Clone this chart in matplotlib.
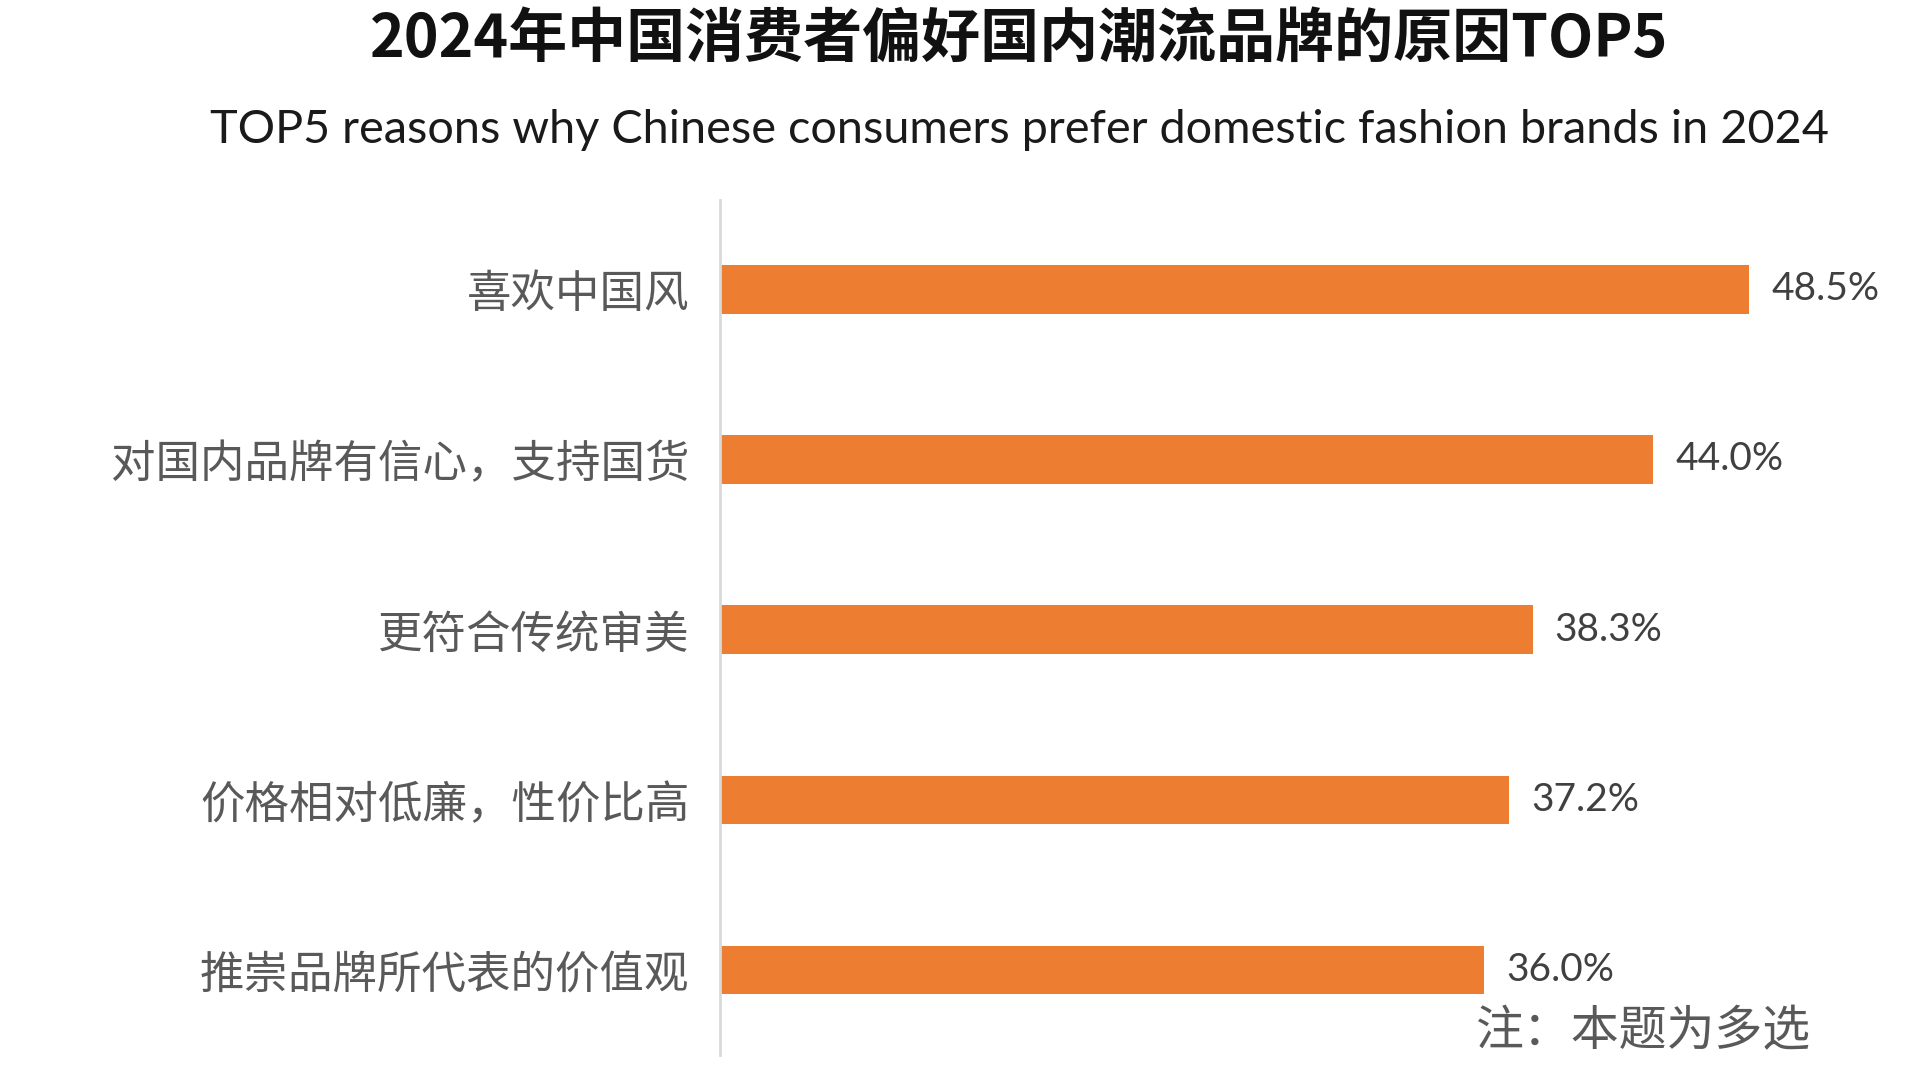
import matplotlib.pyplot as plt
import numpy as np

plt.rcParams['font.family'] = ['Noto Sans CJK SC', 'DejaVu Sans']

categories = ['喜欢中国风', '对国内品牌有信心，支持国货', '更符合传统审美',
              '价格相对低廉，性价比高', '推崇品牌所代表的价值观']
values = [48.5, 44.0, 38.3, 37.2, 36.0]
value_labels = ['48.5%', '44.0%', '38.3%', '37.2%', '36.0%']

title = '2024年中国消费者偏好国内潮流品牌的原因TOP5'
subtitle = 'TOP5 reasons why Chinese consumers prefer domestic fashion brands in 2024'
note = '注：本题为多选'

fig = plt.figure(figsize=(19.2, 10.8), dpi=100)
ax = fig.add_axes([720 / 1920, 25 / 1080, 1 - 720 / 1920 - 0.01, (1055 - 200) / 1080])

y = np.arange(len(categories))
ax.barh(y, values, height=0.285, color='#ED7D31')

for yi, v, lab in zip(y, values, value_labels):
    ax.text(v + 1.05, yi, lab, va='center', ha='left', fontsize=28,
            color='#404040', family=['Lato', 'DejaVu Sans'])

ax.set_xlim(0, 55.66)
ax.set_ylim(4.5, -0.525)
ax.set_yticks(y)
ax.set_yticklabels(categories, fontsize=32, color='#595959')
ax.tick_params(axis='y', length=0, pad=22)
ax.set_xticks([])

for s in ['top', 'right', 'bottom']:
    ax.spines[s].set_visible(False)
ax.spines['left'].set_color('#D9D9D9')
ax.spines['left'].set_linewidth(2)

fig.text(0.531, 0.963, title, ha='center', va='center', fontsize=42.5,
         fontweight='bold', color='#111111')
fig.text(0.531, 0.880, subtitle, ha='center', va='center', fontsize=33.7,
         color='#1a1a1a', family=['Lato', 'DejaVu Sans'])
fig.text(1476 / 1920, 1 - 1031 / 1080, note, ha='left', va='center',
         fontsize=34.5, color='#595959')

fig.savefig('out.png', dpi=100)
